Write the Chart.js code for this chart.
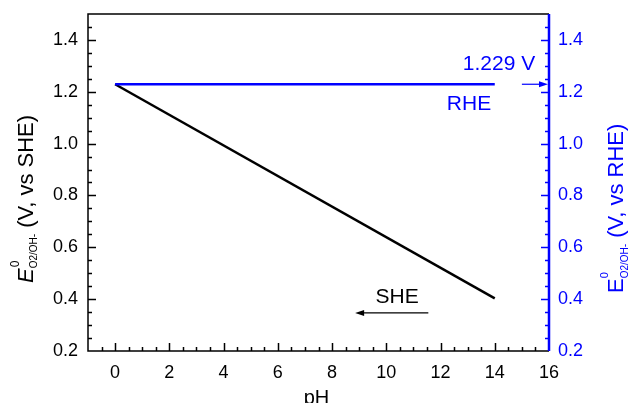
<!DOCTYPE html>
<html>
<head>
<meta charset="utf-8">
<script src="https://cdn.jsdelivr.net/npm/chart.js@4"></script>
<style>
  html, body { margin: 0; padding: 0; background: #fff; }
  #wrap { width: 629px; height: 403px; }
</style>
</head>
<body>
<div id="wrap"><canvas id="myChart"></canvas></div>
<script>
// ================================ data
const pH = [0, 14];
const sheValues = [1.229, 0.403];
const rheValues = [1.229, 1.229];
const xTicks = [0, 2, 4, 6, 8, 10, 12, 14, 16];
const yTicks = [0.2, 0.4, 0.6, 0.8, 1.0, 1.2, 1.4];

const BLUE = "#0000ff";
const FONT = "'Liberation Sans', Arial, sans-serif";

function toPoints(xs, ys) {
  return xs.map((x, i) => ({ x: x, y: ys[i] }));
}

function setTicks(values) {
  return function (scale) {
    scale.ticks = values.map((v) => ({ value: v }));
  };
}

function fitBox(w, h) {
  return function (s) {
    if (w) s.width = w;
    if (h) s.height = h;
    s.paddingTop = 0;
    s.paddingBottom = 0;
    s.paddingLeft = 0;
    s.paddingRight = 0;
  };
}

// rotated text with sub/superscripts
function drawRich(ctx, x, y, parts, color) {
  ctx.save();
  ctx.translate(x, y);
  ctx.rotate(-Math.PI / 2);
  ctx.fillStyle = color;
  ctx.textBaseline = "alphabetic";
  ctx.textAlign = "left";
  let cx = 0;
  parts.forEach((p) => {
    ctx.font = p.font;
    ctx.fillText(p.text, cx + (p.dx || 0), p.dy || 0);
    if (!p.noAdvance) cx += ctx.measureText(p.text).width + (p.dx || 0);
  });
  ctx.restore();
}

function arrow(ctx, x1, y1, x2, y2, color, width) {
  ctx.strokeStyle = color;
  ctx.fillStyle = color;
  ctx.lineWidth = width;
  const dir = Math.sign(x2 - x1);
  ctx.beginPath();
  ctx.moveTo(x1, y1);
  ctx.lineTo(x2 - dir * 6, y2);
  ctx.stroke();
  ctx.beginPath();
  ctx.moveTo(x2, y2);
  ctx.lineTo(x2 - dir * 9, y2 - 3);
  ctx.lineTo(x2 - dir * 9, y2 + 3);
  ctx.closePath();
  ctx.fill();
}

// ================================ frame, ticks, titles, notes
const framePlugin = {
  id: "frame",
  afterDraw(chart) {
    const ctx = chart.ctx;
    const a = chart.chartArea;
    const xs = chart.scales.x;
    const yl = chart.scales.y;
    const yr = chart.scales.y2;
    ctx.save();

    // x ticks (inward, up)
    ctx.strokeStyle = "#000";
    ctx.lineWidth = 1.5;
    ctx.beginPath();
    for (let v = -0.5; v < 16; v += 0.5) {
      const px = Math.round(xs.getPixelForValue(v)) + 0.5;
      const len = v % 2 === 0 ? 8 : 4;
      ctx.moveTo(px, a.bottom);
      ctx.lineTo(px, a.bottom - len);
    }
    // left y ticks
    for (let i = 1; i < 26; i++) {
      const v = 0.2 + i * 0.05;
      const py = Math.round(yl.getPixelForValue(v)) + 0.5;
      const len = i % 4 === 0 ? 8 : 4;
      ctx.moveTo(a.left, py);
      ctx.lineTo(a.left + len, py);
    }
    ctx.stroke();

    // right y ticks
    ctx.strokeStyle = BLUE;
    ctx.beginPath();
    for (let i = 1; i < 26; i++) {
      const v = 0.2 + i * 0.05;
      const py = Math.round(yr.getPixelForValue(v)) + 0.5;
      const len = i % 4 === 0 ? 8 : 4;
      ctx.moveTo(a.right, py);
      ctx.lineTo(a.right - len, py);
    }
    ctx.stroke();

    // frame
    ctx.strokeStyle = "#000";
    ctx.lineWidth = 1.5;
    ctx.beginPath();
    ctx.moveTo(a.right, a.top);
    ctx.lineTo(a.left, a.top);
    ctx.lineTo(a.left, a.bottom);
    ctx.lineTo(a.right, a.bottom);
    ctx.stroke();
    ctx.strokeStyle = BLUE;
    ctx.lineWidth = 2.5;
    ctx.beginPath();
    ctx.moveTo(a.right, a.top);
    ctx.lineTo(a.right, a.bottom);
    ctx.stroke();

    // axis titles
    drawRich(ctx, 33, 283, [
      { text: "E", font: "italic 22px " + FONT },
      { text: "0", font: "12px " + FONT, dy: -14, dx: 1, noAdvance: true },
      { text: "O2/OH-", font: "10px " + FONT, dy: 4 },
      { text: " (V, vs SHE)", font: "22px " + FONT },
    ], "#000");
    drawRich(ctx, 623, 293, [
      { text: "E", font: "22px " + FONT },
      { text: "0", font: "11px " + FONT, dy: -15, noAdvance: true },
      { text: "O2/OH-", font: "10px " + FONT, dy: 5 },
      { text: " (V, vs RHE)", font: "22px " + FONT },
    ], BLUE);

    ctx.fillStyle = "#000";
    ctx.font = "20px " + FONT;
    ctx.textAlign = "center";
    ctx.textBaseline = "alphabetic";
    ctx.fillText("pH", (a.left + a.right) / 2 - 2, 404);

    // notes
    ctx.font = "21px " + FONT;
    ctx.textBaseline = "middle";
    ctx.fillStyle = BLUE;
    ctx.textAlign = "right";
    ctx.fillText("1.229 V", xs.getPixelForValue(15.49), yr.getPixelForValue(1.305));
    ctx.textAlign = "center";
    ctx.fillText("RHE", xs.getPixelForValue(13.05), yr.getPixelForValue(1.152));
    arrow(ctx, xs.getPixelForValue(15), yr.getPixelForValue(1.229),
      xs.getPixelForValue(16) - 1, yr.getPixelForValue(1.229), BLUE, 1.2);

    ctx.fillStyle = "#000";
    ctx.fillText("SHE", xs.getPixelForValue(10.4), yl.getPixelForValue(0.409));
    arrow(ctx, xs.getPixelForValue(11.55), yl.getPixelForValue(0.347),
      xs.getPixelForValue(8.85), yl.getPixelForValue(0.347), "#000", 1.2);

    ctx.restore();
  },
};

let ctx = document.getElementById("myChart").getContext("2d");
let myChart = new Chart(ctx, {
  type: "line",
  data: {
    datasets: [
      {
        label: "RHE",
        data: toPoints(pH, rheValues),
        yAxisID: "y2",
        borderColor: BLUE,
        borderWidth: 2.5,
        pointRadius: 0,
        fill: false,
      },
      {
        label: "SHE",
        data: toPoints(pH, sheValues),
        yAxisID: "y",
        borderColor: "#000",
        borderWidth: 2.5,
        pointRadius: 0,
        fill: false,
      },
    ],
  },
  plugins: [framePlugin],
  options: {
    responsive: true,
    maintainAspectRatio: false,
    animation: false,
    layout: { padding: { top: 14, left: 0, right: 0, bottom: 0 } },
    plugins: {
      legend: { display: false },
      tooltip: { enabled: false },
    },
    scales: {
      x: {
        type: "linear",
        min: -1,
        max: 16,
        afterBuildTicks: setTicks(xTicks),
        afterFit: fitBox(0, 52),
        grid: { display: false, drawTicks: false },
        border: { display: false },
        ticks: { color: "#000", padding: 11, font: { family: FONT, size: 18 } },
      },
      y: {
        position: "left",
        min: 0.2,
        max: 1.5,
        afterBuildTicks: setTicks(yTicks),
        afterFit: fitBox(88, 0),
        grid: { display: false, drawTicks: false },
        border: { display: false },
        ticks: {
          color: "#000",
          padding: 10,
          font: { family: FONT, size: 18 },
          callback: (v) => v.toFixed(1),
        },
      },
      y2: {
        position: "right",
        min: 0.2,
        max: 1.5,
        afterBuildTicks: setTicks(yTicks),
        afterFit: fitBox(80, 0),
        grid: { display: false, drawTicks: false },
        border: { display: false },
        ticks: {
          color: BLUE,
          padding: 9,
          font: { family: FONT, size: 18 },
          callback: (v) => v.toFixed(1),
        },
      },
    },
  },
});
</script>
</body>
</html>
